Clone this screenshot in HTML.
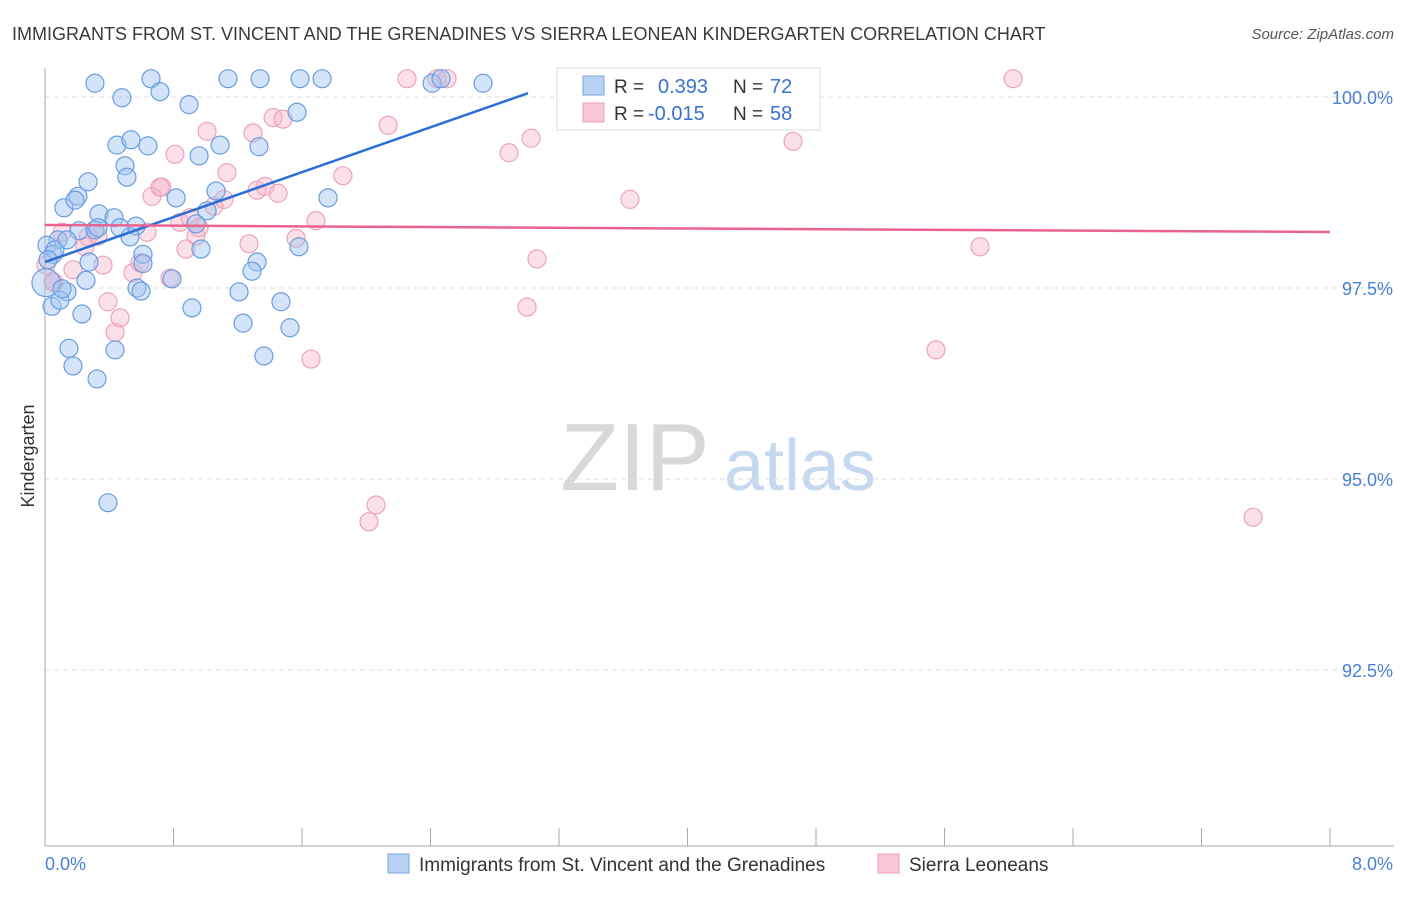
<!DOCTYPE html>
<html><head><meta charset="utf-8"><style>
body{margin:0;background:#fff;font-family:"Liberation Sans",sans-serif}
svg text{font-family:"Liberation Sans",sans-serif}
</style></head><body>
<svg id="chart" width="1406" height="892" viewBox="0 0 1406 892" xmlns="http://www.w3.org/2000/svg">
<text x="12" y="40" font-size="18" fill="#3a3a3a">IMMIGRANTS FROM ST. VINCENT AND THE GRENADINES VS SIERRA LEONEAN KINDERGARTEN CORRELATION CHART</text>
<text x="1394" y="39" font-size="15" fill="#555" font-style="italic" text-anchor="end">Source: ZipAtlas.com</text>
<g>
<text x="635" y="490" font-size="96" fill="#d8d8d8" font-family="Liberation Serif" text-anchor="middle">ZIP</text>
<text x="800" y="490" font-size="72" fill="#c5d8f0" text-anchor="middle">atlas</text>
</g>
<g id="grid"></g>
<g id="axes"></g>
<g id="pts"></g>
<g id="lines"></g>
<g>
<rect x="557" y="68" width="263" height="62" fill="#fff" stroke="#ddd"/>
<rect x="583" y="76" width="21" height="19" fill="#b8d2f4" stroke="#7aa6e0"/>
<text x="614" y="93" font-size="19" fill="#333">R =</text>
<text x="658" y="93" font-size="20" fill="#3a72d0">0.393</text>
<text x="733" y="93" font-size="19" fill="#333">N =</text>
<text x="770" y="93" font-size="20" fill="#3a72d0">72</text>
<rect x="583" y="103" width="21" height="19" fill="#f8c6d4" stroke="#eca0b8"/>
<text x="614" y="120" font-size="19" fill="#333">R =</text>
<text x="648" y="120" font-size="20" fill="#3a72d0">-0.015</text>
<text x="733" y="120" font-size="19" fill="#333">N =</text>
<text x="770" y="120" font-size="20" fill="#3a72d0">58</text>
</g>
<g>
<rect x="388" y="854" width="21" height="19" fill="#b8d2f4" stroke="#7aa6e0"/>
<text x="419" y="871" font-size="19" fill="#333">Immigrants from St. Vincent and the Grenadines</text>
<rect x="878" y="854" width="21" height="19" fill="#f8c6d4" stroke="#eca0b8"/>
<text x="909" y="871" font-size="19" fill="#333">Sierra Leoneans</text>
</g>
<text transform="translate(34,456) rotate(-90)" font-size="18" fill="#333" text-anchor="middle">Kindergarten</text>
</svg>
<script>
const blueX=[0.311,0.66,1.139,1.339,1.588,1.725,2.41,2.466,2.727,0.479,0.716,0.897,1.569,0.448,0.535,0.641,1.09,1.332,0.959,0.498,0.51,0.268,0.205,0.118,0.187,1.065,0.816,1.762,0.336,0.43,1.009,0.567,0.94,0.212,0.311,0.081,0.012,0.529,0.05,0.274,0.61,0.971,1.581,1.32,0.61,1.289,0.791,0.255,0.573,0.598,1.208,0.137,1.469,0.044,0.093,0.23,0.915,1.233,1.525,0.149,0.436,1.363,0.174,0.324,0.392,0.006,0.062,0.137,0.33,0.106,0.019,0.467];
const blueY=[100.18,100.24,100.24,100.24,100.24,100.24,100.18,100.24,100.18,99.99,100.07,99.90,99.80,99.37,99.44,99.36,99.37,99.35,99.23,99.10,98.95,98.89,98.70,98.55,98.65,98.77,98.68,98.68,98.47,98.42,98.51,98.31,98.34,98.25,98.26,98.13,98.06,98.17,97.94,97.84,97.94,98.01,98.04,97.84,97.82,97.72,97.62,97.60,97.50,97.46,97.45,97.45,97.32,97.26,97.34,97.16,97.24,97.04,96.98,96.71,96.69,96.61,96.48,96.31,94.69,97.57,98.00,98.13,98.29,97.49,97.87,98.29];
const pinkX=[2.254,2.44,2.503,6.027,4.327,3.723,3.026,2.889,2.136,1.42,1.482,1.009,1.295,0.809,4.657,1.133,0.728,0.666,1.37,1.32,1.451,1.855,1.052,1.114,3.642,1.687,0.84,0.94,0.959,0.635,0.33,0.249,0.174,0.548,0.361,1.563,1.27,0.878,5.821,3.063,0.591,0.778,0.392,0.436,0.467,3.001,1.656,5.547,2.061,2.017,7.521,0.05,0.106,0.006,0.268,0.716,0.903,0.056];
const pinkY=[100.24,100.24,100.24,100.24,100.24,99.79,99.46,99.27,99.63,99.73,99.71,99.55,99.53,99.25,99.42,99.01,98.82,98.70,98.83,98.78,98.74,98.97,98.57,98.66,98.66,98.38,98.36,98.18,98.29,98.23,98.18,98.04,97.74,97.70,97.80,98.15,98.08,98.01,98.04,97.88,97.83,97.63,97.32,96.92,97.11,97.25,96.57,96.69,94.66,94.44,94.50,97.58,98.23,97.80,98.17,98.82,98.42,97.57];
const blueTrend=[[0,97.84],[3.007,100.05]];
const pinkTrend=[[0,98.325],[8,98.233]];
const yTicks=[100,97.5,95,92.5];
const yTickLabels=["100.0%","97.5%","95.0%","92.5%"];
const xTicks=[0,0.8,1.6,2.4,3.2,4,4.8,5.6,6.4,7.2,8];
const X0=45,X1=1330;
const sx=v=>X0+(v/8)*(X1-X0);
const sy=v=>97+(100-v)/2.5*191;
const NS="http://www.w3.org/2000/svg";
function mk(tag,attrs,parent){const e=document.createElementNS(NS,tag);for(const k in attrs)e.setAttribute(k,attrs[k]);parent.appendChild(e);return e;}
const grid=document.getElementById('grid'),axes=document.getElementById('axes');
yTicks.forEach((t,i)=>{
 const l=mk('line',{x1:X0,x2:1394,y1:sy(t),y2:sy(t),stroke:'#ddd','stroke-dasharray':'5,4'},grid);
 
 
 const tx=mk('text',{x:1393,y:sy(t)+7,'font-size':18,fill:'#4a7fd4','text-anchor':'end'},axes);
 tx.textContent=yTickLabels[i];
 
 
});
const ya=mk('line',{x1:X0,x2:X0,y1:68,y2:846,stroke:'#aaa'},axes);


const xa=mk('line',{x1:X0,x2:1394,y1:846,y2:846,stroke:'#aaa'},axes);


xTicks.forEach(t=>{
 const l=mk('line',{x1:sx(t),x2:sx(t),y1:828,y2:846,stroke:'#aaa'},axes);
 
 
});
const xl0=mk('text',{x:45,y:870,'font-size':18,fill:'#4a7fd4'},axes);xl0.textContent='0.0%';


const xl1=mk('text',{x:1393,y:870,'font-size':18,fill:'#4a7fd4','text-anchor':'end'},axes);xl1.textContent='8.0%';


const pts=document.getElementById('pts');
pinkX.forEach((v,i)=>{
 const c=mk('circle',{cx:sx(v),cy:sy(pinkY[i]),r:9,fill:'rgba(246,178,200,0.4)',stroke:'#eea3bb','stroke-width':1.2},pts);
 
 
});
blueX.forEach((v,i)=>{
 const c=mk('circle',{cx:sx(v),cy:sy(blueY[i]),r:i===65?14:9,fill:'rgba(160,196,240,0.45)',stroke:'#6a9ce0','stroke-width':1.2},pts);
 
 
});
const lines=document.getElementById('lines');
const bl=mk('line',{x1:sx(blueTrend[0][0]),y1:sy(blueTrend[0][1]),x2:sx(blueTrend[1][0]),y2:sy(blueTrend[1][1]),stroke:'#2a6fd6','stroke-width':2.5},lines);


const pl=mk('line',{x1:sx(pinkTrend[0][0]),y1:sy(pinkTrend[0][1]),x2:sx(pinkTrend[1][0]),y2:sy(pinkTrend[1][1]),stroke:'#e8638f','stroke-width':2.5},lines);


</script>
</body></html>
